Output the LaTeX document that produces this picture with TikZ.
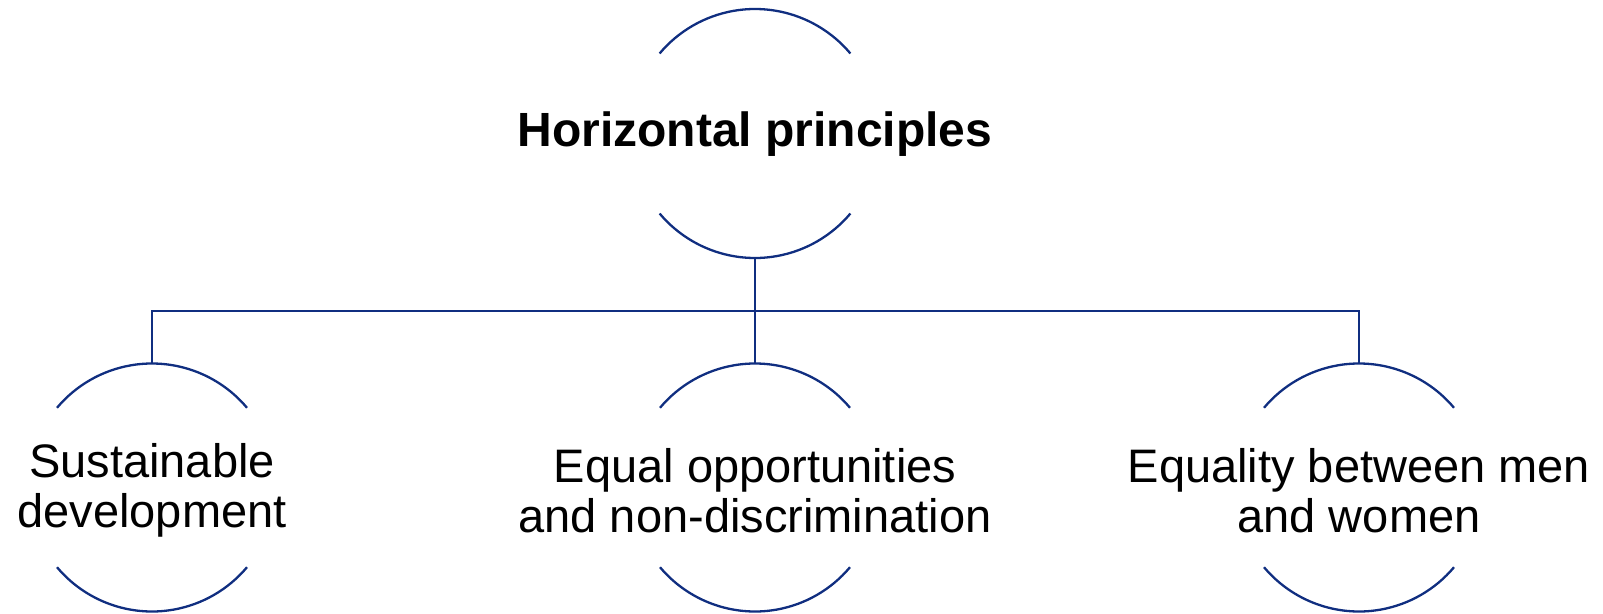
\documentclass[tikz,border=0pt]{standalone}
\usepackage{fontspec}
\setmainfont{Liberation Sans}
\definecolor{navy}{RGB}{16,46,128}
\begin{document}
\begin{tikzpicture}[x=1pt,y=1pt,
  ball/.style={circle, minimum size=#1, inner sep=0pt, outer sep=0pt},
  balltext/.style={align=center, font=\fontsize{47}{50}\selectfont, yshift=-3pt},
  conn/.style={draw=navy, line width=2.3pt}]
\useasboundingbox (0,0) rectangle (1603,-613);
\node[ball=249pt, label={[balltext, yshift=2pt, font=\bfseries\fontsize{48}{50}\selectfont]center:Horizontal principles}] (hp) at (755,-133.5) {};
\node[ball=248pt, label={[balltext]center:Sustainable\\development}] (sd) at (152,-487.5) {};
\node[ball=248pt, label={[balltext]center:Equal opportunities\\and non-discrimination}] (eo) at (755,-487.5) {};
\node[ball=248pt, label={[balltext]center:Equality between men\\and women}] (ew) at (1359,-487.5) {};
\foreach \n/\r in {hp/124.5,sd/124,eo/124,ew/124}{
  \draw[conn] (\n.40) arc[start angle=40, end angle=140, radius=\r];
  \draw[conn] (\n.220) arc[start angle=220, end angle=320, radius=\r];
}
\coordinate (bus) at (755,-310.7);
\draw[conn] (hp.south) -- (eo.north);
\draw[conn] (sd.north) |- (bus) -| (ew.north);
\end{tikzpicture}
\end{document}
